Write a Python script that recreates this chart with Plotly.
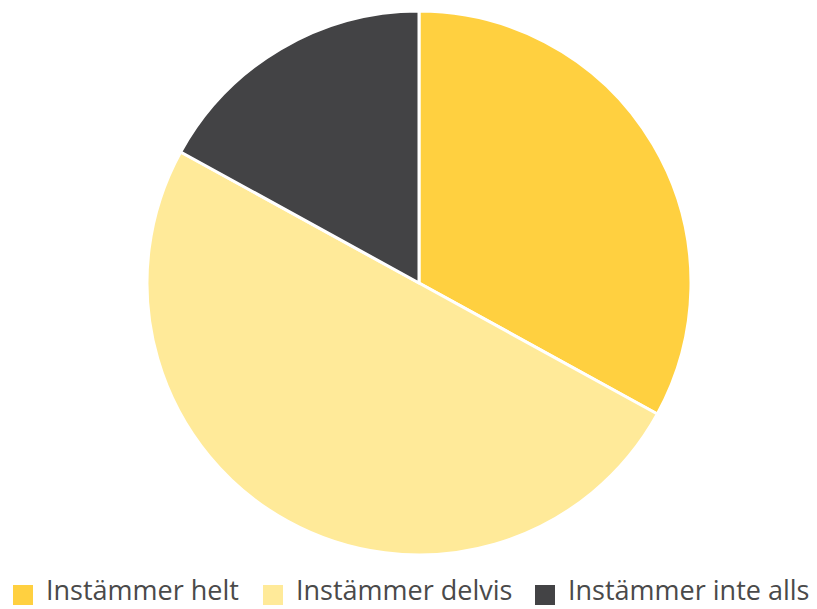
import plotly.graph_objects as go

labels = ["Instämmer helt", "Instämmer delvis", "Instämmer inte alls"]
values = [33, 50, 17]
colors = ["#FFD040", "#FFEA99", "#434345"]

W, H = 817, 609

fig = go.Figure(
    go.Pie(
        labels=labels,
        values=values,
        sort=False,
        direction="clockwise",
        rotation=0,
        textinfo="none",
        hoverinfo="label+percent",
        marker=dict(colors=colors, line=dict(color="#FFFFFF", width=3)),
        domain=dict(x=[147 / W, 691 / W], y=[1 - 555 / H, 1 - 11 / H]),
        showlegend=False,
    )
)

# Legend drawn as swatches + labels along the bottom edge
swatch_left = [13, 263, 535]
swatch_size = 20
swatch_mid_y = 595
for x0, label, color in zip(swatch_left, labels, colors):
    fig.add_shape(
        type="rect", xref="paper", yref="paper",
        x0=x0 / W, x1=(x0 + swatch_size) / W,
        y0=1 - (swatch_mid_y + swatch_size / 2) / H,
        y1=1 - (swatch_mid_y - swatch_size / 2) / H,
        fillcolor=color, line=dict(width=0),
    )
    fig.add_annotation(
        x=(x0 + swatch_size + 12) / W, y=0,
        xref="paper", yref="paper", xanchor="left", yanchor="bottom",
        text=label, showarrow=False, borderpad=0,
        font=dict(family="Open Sans, Noto Sans, sans-serif", size=27, color="#4A4A4A"),
    )

fig.update_layout(
    width=W,
    height=H,
    margin=dict(l=0, r=0, t=0, b=0),
    paper_bgcolor="#FFFFFF",
    plot_bgcolor="#FFFFFF",
    showlegend=False,
)

fig.write_html("out.html")
